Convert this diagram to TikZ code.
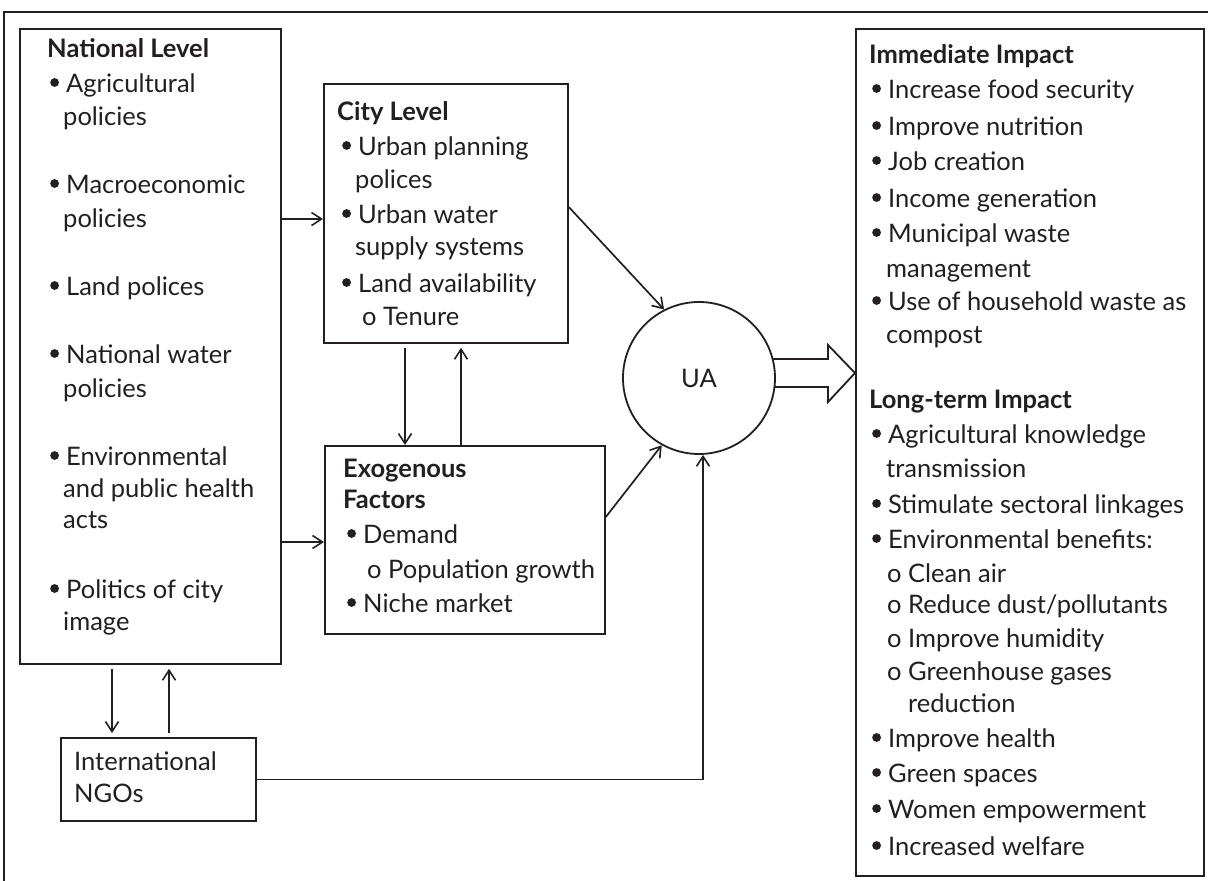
\documentclass[tikz,border=0pt]{standalone}
\usepackage{fontspec}
\setmainfont{Lato}
\usetikzlibrary{arrows.meta}
\definecolor{ink}{HTML}{231F20}
\newcommand{\bul}{\makebox[16pt][l]{\tikz[baseline=0pt]\fill[ink] (4.2pt,9.5pt) circle (4.4pt);}}
\begin{document}
\begin{tikzpicture}[x=1pt,y=-1pt,
  box/.style={draw=ink,line width=1.8pt,inner sep=0pt,anchor=north west},
  txt/.style={anchor=base west,inner sep=0pt,text=ink,font=\fontsize{25.5}{28}\selectfont},
  hd/.style={txt,font=\fontsize{25.5}{28}\selectfont\bfseries},
  arr/.style={draw=ink,line width=1.7pt,-{Straight Barb[length=10pt,width=13pt,line width=1.6pt]}}]
\useasboundingbox (0,0) rectangle (1208,881);
% outer frame
\draw[ink,line width=1.8pt] (1208,12) -- (4,12) -- (4,881);
% boxes
\node[box,minimum width=261pt,minimum height=635pt] (nat) at (19,28) {};
\node[box,minimum width=244pt,minimum height=259pt] (city) at (323,83) {};
\node[box,minimum width=280pt,minimum height=188pt] (exo) at (324,445) {};
\node[box,minimum width=195pt,minimum height=83pt] (ngo) at (60,737) {};
\node[box,minimum width=348pt,minimum height=847pt] (imp) at (855,28) {};
% big hollow arrow
\coordinate (ha0) at (760,359);
\draw[ink,line width=1.8pt,fill=white,line join=miter] (ha0) -- (828,359) -- (828,345) -- (imp.west |- 0,373) -- (828,402) -- (828,387) -- (760,387);
\node[draw=ink,line width=1.8pt,circle,fill=white,minimum size=152pt,inner sep=0pt,text=ink,font=\fontsize{25.5}{28}\selectfont] (ua) at (699,378) {UA};
% connector coordinates
\coordinate (y1) at (0,219);
\coordinate (y2) at (0,542);
\coordinate (y3) at (0,207);
\coordinate (y4) at (0,517);
\coordinate (x1) at (405,0);
\coordinate (x2) at (461,0);
\coordinate (x3) at (112,0);
\coordinate (x4) at (169,0);
% connectors
\draw[arr] (nat.east |- y1) -- (city.west |- y1);
\draw[arr] (nat.east |- y2) -- (exo.west |- y2);
\draw[arr,shorten <=4pt] (city.south -| x1) -- (exo.north -| x1);
\draw[arr,shorten >=4pt] (exo.north -| x2) -- (city.south -| x2);
\draw[arr,shorten <=4pt,shorten >=4pt] (nat.south -| x3) -- (ngo.north -| x3);
\draw[arr,shorten <=4pt,shorten >=4pt] (ngo.north -| x4) -- (nat.south -| x4);
\draw[arr] (city.east |- y3) -- (ua.117);
\draw[arr] (exo.east |- y4) -- (ua.-119);
\draw[arr] (ngo.east) -| ([xshift=4pt]ua.south);
% National level text
\node[hd] (n0) at (47,57) {National Level};
\node[txt] (n1) at (50,92) {\bul Agricultural};
\node[txt] (n2) at (63,125) {policies};
\node[txt] (n3) at (50,193) {\bul Macroeconomic};
\node[txt] (n4) at (63,227) {policies};
\node[txt] (n5) at (50,295) {\bul Land polices};
\node[txt] (n6) at (50,363) {\bul National water};
\node[txt] (n7) at (63,397) {policies};
\node[txt] (n8) at (50,465) {\bul Environmental};
\node[txt] (n9) at (63,497) {and public health};
\node[txt] (n10) at (63,528) {acts};
\node[txt] (n11) at (50,598) {\bul Politics of city};
\node[txt] (n12) at (63,630) {image};
% City level text
\node[hd] (c0) at (337,120) {City Level};
\node[txt] (c1) at (342,155) {\bul Urban planning};
\node[txt] (c2) at (355,188) {polices};
\node[txt] (c3) at (342,223) {\bul Urban water};
\node[txt] (c4) at (355,255) {supply systems};
\node[txt] (c5) at (342,292) {\bul Land availability};
\node[txt] (c6) at (362,325) {o Tenure};
% Exogenous text
\node[hd] (e0) at (343,477) {Exogenous};
\node[hd] (e1) at (343,508) {Factors};
\node[txt] (e2) at (347,543) {\bul Demand};
\node[txt] (e3) at (367,578) {o Population growth};
\node[txt] (e4) at (347,612) {\bul Niche market};
% NGO text
\node[txt] (g1) at (74,770) {International};
\node[txt] (g2) at (74,802) {NGOs};
% Impact text
\node[hd] (i0) at (869,63) {Immediate Impact};
\node[txt] (i1) at (872,98) {\bul Increase food security};
\node[txt] (i2) at (872,135) {\bul Improve nutrition};
\node[txt] (i3) at (872,170) {\bul Job creation};
\node[txt] (i4) at (872,207) {\bul Income generation};
\node[txt] (i5) at (872,242) {\bul Municipal waste};
\node[txt] (i6) at (886,277) {management};
\node[txt] (i7) at (872,310) {\bul Use of household waste as};
\node[txt] (i8) at (886,343) {compost};
\node[hd] (l0) at (869,408) {Long-term Impact};
\node[txt] (l1) at (872,443) {\bul Agricultural knowledge};
\node[txt] (l2) at (886,477) {transmission};
\node[txt] (l3) at (872,513) {\bul Stimulate sectoral linkages};
\node[txt] (l4) at (872,548) {\bul Environmental benefits:};
\node[txt] (l5) at (887,582) {o Clean air};
\node[txt] (l6) at (887,613) {o Reduce dust/pollutants};
\node[txt] (l7) at (887,647) {o Improve humidity};
\node[txt] (l8) at (887,680) {o Greenhouse gases};
\node[txt] (l9) at (908,712) {reduction};
\node[txt] (l10) at (872,747) {\bul Improve health};
\node[txt] (l11) at (872,782) {\bul Green spaces};
\node[txt] (l12) at (872,818) {\bul Women empowerment};
\node[txt] (l13) at (872,855) {\bul Increased welfare};
\end{tikzpicture}
\end{document}
